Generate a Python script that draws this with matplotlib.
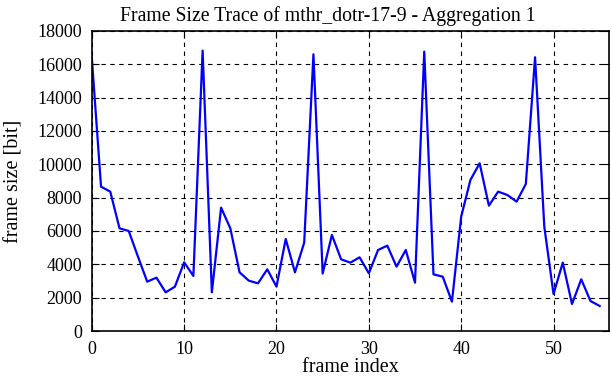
import matplotlib.pyplot as plt
import numpy as np

plt.rcParams['font.family'] = ['Liberation Serif', 'DejaVu Serif']

# Frame sizes (bit), one value per frame index 0..55
frame_size = [
    16400, 8660, 8360, 6160, 6000, 4460, 2960, 3200, 2320, 2660,
    4120, 3300, 16820, 2320, 7400, 6160, 3520, 3020, 2860, 3700,
    2660, 5520, 3520, 5300, 16600, 3450, 5760, 4300, 4100, 4420,
    3460, 4860, 5120, 3860, 4860, 2900, 16760, 3400, 3260, 1760,
    6860, 9060, 10060, 7520, 8360, 8160, 7760, 8820, 16420, 6260,
    2220, 4100, 1620, 3100, 1800, 1500,
]
frame_index = np.arange(len(frame_size))

fig = plt.figure(figsize=(6.12, 3.82), dpi=100)
ax = fig.add_axes([0.150, 0.1335, 0.845, 0.7855])

ax.plot(frame_index, frame_size, color='#0000ff', linewidth=1.6)

ax.set_xlim(0, 56)
ax.set_ylim(0, 18000)
ax.set_xticks(np.arange(0, 51, 10))
ax.set_yticks(np.arange(0, 18001, 2000))
ax.grid(True, color='black', linestyle=(0, (4, 4)), linewidth=0.8)
ax.tick_params(direction='in', top=True, right=True, labelsize=13, length=5, pad=7)
for s in ax.spines.values():
    s.set_linewidth(1.2)

ax.set_xlabel('frame index', fontsize=14.5, labelpad=0)
ax.set_ylabel('frame size [bit]', fontsize=14.5, labelpad=10)
ax.set_title('Frame Size Trace of mthr_dotr-17-9 - Aggregation 1',
             fontsize=14.2, pad=7, x=0.457)

plt.savefig('out.png', dpi=100)
